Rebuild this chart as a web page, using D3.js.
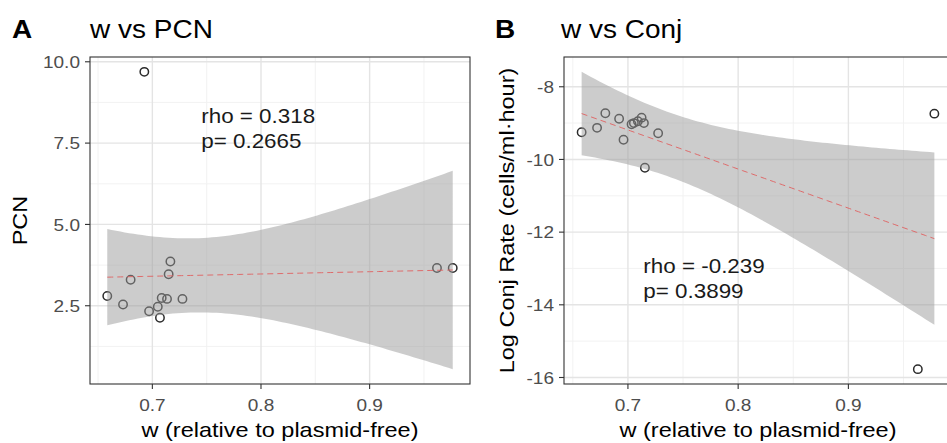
<!DOCTYPE html>
<html>
<head>
<meta charset="utf-8">
<script src="https://cdn.jsdelivr.net/npm/d3@7"></script>
<style>
  body { margin: 0; background: #fff; overflow: hidden; }
  text { font-family: "Liberation Sans", Arial, sans-serif; }
</style>
</head>
<body>
<div id="chart"></div>
<script>

// Panel A: fitness vs plasmid copy number
const wA = [0.6585, 0.673, 0.680, 0.6926, 0.697, 0.705, 0.707, 0.7086, 0.7135, 0.715, 0.7166, 0.7277, 0.962, 0.9765];
const pcn = [2.80, 2.54, 3.30, 9.69, 2.33, 2.47, 2.13, 2.74, 2.71, 3.47, 3.86, 2.71, 3.66, 3.66];
const pcnTicks = [2.5, 5.0, 7.5, 10.0];
const pcnMinor = [1.25, 3.75, 6.25, 8.75];
const statsA = ["rho = 0.318", "p= 0.2665"];
const statsPosA = [0.745, 8.12];

// Panel B: fitness vs log conjugation rate
const wB = [0.658, 0.672, 0.6795, 0.692, 0.696, 0.7033, 0.7054, 0.709, 0.7124, 0.7145, 0.7154, 0.7274, 0.963, 0.978];
const logConj = [-9.25, -9.13, -8.73, -8.88, -9.46, -9.03, -9.00, -8.95, -8.85, -9.00, -10.23, -9.28, -15.77, -8.74];
const conjTicks = [-16, -14, -12, -10, -8];
const conjMinor = [-15, -13, -11, -9];
const statsB = ["rho = -0.239", "p= 0.3899"];
const statsPosB = [0.714, -13.12];

const wTicks = [0.7, 0.8, 0.9];
const wMinor = [0.65, 0.75, 0.85, 0.95];

const T_CRIT = 2.178813; // qt(0.975, df = 12), n = 14
const STRETCH = 1.12;    // reference text is drawn a bit wide

// text that is widened along its reading direction
function wideText(parent, x, y, str, opts) {
    opts = opts || {};
    let tf = "translate(" + x + "," + y + ")";
    if (opts.rotate) tf += " rotate(" + opts.rotate + ")";
    tf += " scale(" + STRETCH + ",1)";
    return parent.append("text")
        .attr("transform", tf)
        .attr("text-anchor", opts.anchor || "start")
        .attr("dy", opts.dy || 0)
        .attr("font-size", opts.size || 15)
        .attr("font-weight", opts.weight || "normal")
        .attr("fill", opts.fill || "#000")
        .text(str);
}

// lm fit with 95% confidence band, like geom_smooth(method = "lm")
function lmBand(xs, ys) {
    let n = xs.length;
    let mx = d3.mean(xs), my = d3.mean(ys);
    let sxx = d3.sum(xs, x => (x - mx) * (x - mx));
    let sxy = d3.sum(xs.map((x, i) => (x - mx) * (ys[i] - my)));
    let b = sxy / sxx, a = my - b * mx;
    let rss = d3.sum(xs.map((x, i) => Math.pow(ys[i] - (a + b * x), 2)));
    let s = Math.sqrt(rss / (n - 2));
    let ext = d3.extent(xs);
    return d3.range(80).map(k => {
        let x = ext[0] + (ext[1] - ext[0]) * k / 79;
        let fit = a + b * x;
        let se = s * Math.sqrt(1 / n + (x - mx) * (x - mx) / sxx);
        return {x: x, fit: fit, lo: fit - T_CRIT * se, hi: fit + T_CRIT * se};
    });
}

function expand(ext) {
    let pad = (ext[1] - ext[0]) * 0.05;
    return [ext[0] - pad, ext[1] + pad];
}

class ScatterPanel {

constructor(svg, cfg) {
    this.svg = svg;
    this.cfg = cfg;
    this.band = lmBand(cfg.xs, cfg.ys);
}

    initVis() {
        let vis = this, c = vis.cfg;

        vis.x = d3.scaleLinear()
            .domain(expand(d3.extent(c.xs)))
            .range([c.left, c.right]);

        let yExt = d3.extent(c.ys.concat(vis.band.map(d => d.lo), vis.band.map(d => d.hi)));
        vis.y = d3.scaleLinear()
            .domain(expand(yExt))
            .range([c.bottom, c.top]);

        let g = vis.svg.append("g");

        // grid
        g.selectAll(".minor-x").data(wMinor.filter(v => v > vis.x.domain()[0] && v < vis.x.domain()[1]))
            .enter().append("line")
            .attr("x1", d => vis.x(d)).attr("x2", d => vis.x(d))
            .attr("y1", c.top).attr("y2", c.bottom)
            .attr("stroke", "#f0f0f0").attr("stroke-width", 0.9);
        g.selectAll(".minor-y").data(c.yMinor.filter(v => v > vis.y.domain()[0] && v < vis.y.domain()[1]))
            .enter().append("line")
            .attr("y1", d => vis.y(d)).attr("y2", d => vis.y(d))
            .attr("x1", c.left).attr("x2", c.right)
            .attr("stroke", "#f0f0f0").attr("stroke-width", 0.9);
        g.selectAll(".major-x").data(wTicks)
            .enter().append("line")
            .attr("x1", d => vis.x(d)).attr("x2", d => vis.x(d))
            .attr("y1", c.top).attr("y2", c.bottom)
            .attr("stroke", "#e4e4e4").attr("stroke-width", 1.4);
        g.selectAll(".major-y").data(c.yTicks)
            .enter().append("line")
            .attr("y1", d => vis.y(d)).attr("y2", d => vis.y(d))
            .attr("x1", c.left).attr("x2", c.right)
            .attr("stroke", "#e4e4e4").attr("stroke-width", 1.4);

        // points go under the ribbon
        g.selectAll("circle").data(c.xs)
            .enter().append("circle")
            .attr("cx", d => vis.x(d))
            .attr("cy", (d, i) => vis.y(c.ys[i]))
            .attr("r", 4.2)
            .attr("fill", "none")
            .attr("stroke", "#2b2b2b")
            .attr("stroke-width", 1.5);

        let area = d3.area()
            .x(d => vis.x(d.x))
            .y0(d => vis.y(d.lo))
            .y1(d => vis.y(d.hi));
        g.append("path")
            .datum(vis.band)
            .attr("d", area)
            .attr("fill", "#999999")
            .attr("fill-opacity", 0.5);

        let line = d3.line()
            .x(d => vis.x(d.x))
            .y(d => vis.y(d.fit));
        g.append("path")
            .datum(vis.band)
            .attr("d", line)
            .attr("fill", "none")
            .attr("stroke", "#e06060")
            .attr("stroke-width", 0.9)
            .attr("stroke-dasharray", "6,4");

        // panel border
        g.append("rect")
            .attr("x", c.left).attr("y", c.top)
            .attr("width", c.right - c.left).attr("height", c.bottom - c.top)
            .attr("fill", "none")
            .attr("stroke", "#333")
            .attr("stroke-width", 1.1);

        // ticks + labels
        c.yTicks.forEach(v => {
            g.append("line")
                .attr("x1", c.left - 5).attr("x2", c.left)
                .attr("y1", vis.y(v)).attr("y2", vis.y(v))
                .attr("stroke", "#333").attr("stroke-width", 1.1);
            wideText(g, c.left - 10, vis.y(v), c.yFormat(v), {anchor: "end", dy: "0.36em", size: 17, fill: "#4d4d4d"});
        });
        wTicks.forEach(v => {
            g.append("line")
                .attr("x1", vis.x(v)).attr("x2", vis.x(v))
                .attr("y1", c.bottom).attr("y2", c.bottom + 5)
                .attr("stroke", "#333").attr("stroke-width", 1.1);
            wideText(g, vis.x(v), c.bottom + 27, d3.format(".1f")(v), {anchor: "middle", size: 17, fill: "#4d4d4d"});
        });

        // axis titles
        wideText(g, (c.left + c.right) / 2, c.bottom + 53, "w (relative to plasmid-free)", {anchor: "middle", size: 21});
        wideText(g, c.yTitleX, (c.top + c.bottom) / 2, c.yTitle, {anchor: "middle", size: 21, rotate: -90});

        // titles
        wideText(g, c.tagX, 38, c.tag, {size: 25, weight: "bold"});
        wideText(g, c.titleX, 38, c.title, {size: 25});

        // rho / p annotation
        c.stats.forEach((s, i) => {
            wideText(g, vis.x(c.statsPos[0]), vis.y(c.statsPos[1]) + i * 25, s, {size: 20, fill: "#1a1a1a"});
        });
    }
}

let svg = d3.select("#chart").append("svg")
    .attr("width", 947)
    .attr("height", 443);

svg.append("rect").attr("width", 947).attr("height", 443).attr("fill", "#fff");

new ScatterPanel(svg, {
    xs: wA, ys: pcn,
    left: 90, right: 470, top: 57, bottom: 384,
    yTicks: pcnTicks, yMinor: pcnMinor, yFormat: d3.format(".1f"),
    yTitle: "PCN", yTitleX: 27,
    tag: "A", tagX: 12, title: "w vs PCN", titleX: 90,
    stats: statsA, statsPos: statsPosA
}).initVis();

new ScatterPanel(svg, {
    xs: wB, ys: logConj,
    left: 564, right: 952, top: 57, bottom: 384,
    yTicks: conjTicks, yMinor: conjMinor, yFormat: d => String(d), // plain hyphen like R
    yTitle: "Log Conj Rate (cells/ml\u00b7hour)", yTitleX: 514,
    tag: "B", tagX: 495, title: "w vs Conj", titleX: 561,
    stats: statsB, statsPos: statsPosB
}).initVis();

</script>
</body>
</html>
